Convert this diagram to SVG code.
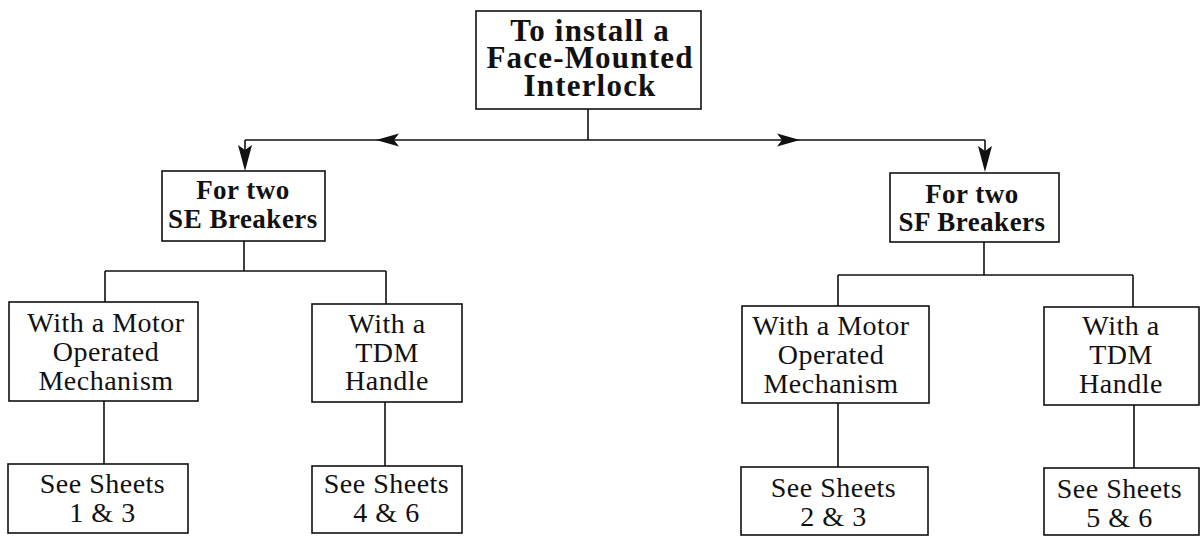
<svg xmlns="http://www.w3.org/2000/svg" width="1201" height="536" viewBox="0 0 1201 536">
<style>
.box{fill:#fff;stroke:#111;stroke-width:1.6}
.ln{fill:none;stroke:#111;stroke-width:1.6}
.ah{fill:#111}
.t{font-family:"Liberation Serif","Times New Roman",serif;fill:#111;text-anchor:middle}
.title{font-size:31px;font-weight:bold;letter-spacing:1.2px}
.sub{font-size:27px;font-weight:bold;letter-spacing:0.5px}
.reg{font-size:28px;letter-spacing:0.5px}
</style>
<rect width="1201" height="536" fill="#fff"/>
<g id="connectors">
<path class="ln" d="M588,109 V140"/>
<path class="ln" d="M245,140 H985"/>
<path class="ah" d="M376,140 L399,133.5 L394,140 L399,146.5 Z"/>
<path class="ah" d="M800,140 L777,133.5 L782,140 L777,146.5 Z"/>
<path class="ah" d="M238,145 L245,171 L252,145 L245,150 Z"/>
<path class="ah" d="M978,146 L985,172 L992,146 L985,151 Z"/>
<path class="ln" d="M245,140 V150 M985,140 V151"/>
<path class="ln" d="M244,241 V271 M105,271 H386 M105,271 V302 M386,271 V304"/>
<path class="ln" d="M984,242 V275 M838,275 H1133 M838,275 V306 M1133,275 V307"/>
<path class="ln" d="M104,401 V464 M385,402 V466"/>
<path class="ln" d="M838,403 V467 M1134,405 V468"/>
</g>
<g id="n-root">
<rect class="box" x="476" y="11" width="225" height="98"/>
<text class="t title" x="590" y="41">To install a</text>
<text class="t title" x="590" y="68">Face-Mounted</text>
<text class="t title" x="590" y="96">Interlock</text>
</g>
<g id="n-se">
<rect class="box" x="162" y="171" width="163" height="70"/>
<text class="t sub" x="243" y="199">For two</text>
<text class="t sub" x="243" y="228">SE Breakers</text>
</g>
<g id="n-sf">
<rect class="box" x="890" y="173" width="169" height="69"/>
<text class="t sub" x="972" y="203">For two</text>
<text class="t sub" x="972" y="231">SF Breakers</text>
</g>
<g id="n-se-motor">
<rect class="box" x="9" y="302" width="189" height="99"/>
<text class="t reg" x="106" y="332">With a Motor</text>
<text class="t reg" x="106" y="361">Operated</text>
<text class="t reg" x="106" y="390">Mechanism</text>
</g>
<g id="n-se-tdm">
<rect class="box" x="312" y="304" width="150" height="98"/>
<text class="t reg" x="387" y="333">With a</text>
<text class="t reg" x="387" y="362">TDM</text>
<text class="t reg" x="387" y="390">Handle</text>
</g>
<g id="n-sf-motor">
<rect class="box" x="742" y="306" width="187" height="97"/>
<text class="t reg" x="831" y="335">With a Motor</text>
<text class="t reg" x="831" y="364">Operated</text>
<text class="t reg" x="831" y="393">Mechanism</text>
</g>
<g id="n-sf-tdm">
<rect class="box" x="1044" y="307" width="155" height="98"/>
<text class="t reg" x="1121" y="335">With a</text>
<text class="t reg" x="1121" y="364">TDM</text>
<text class="t reg" x="1121" y="393">Handle</text>
</g>
<g id="n-sheets-13">
<rect class="box" x="8" y="464" width="180" height="69"/>
<text class="t reg" x="102.5" y="493">See Sheets</text>
<text class="t reg" x="102.5" y="522">1 &amp; 3</text>
</g>
<g id="n-sheets-46">
<rect class="box" x="312" y="466" width="150" height="67"/>
<text class="t reg" x="386.5" y="493">See Sheets</text>
<text class="t reg" x="386.5" y="522">4 &amp; 6</text>
</g>
<g id="n-sheets-23">
<rect class="box" x="741" y="467" width="187" height="68"/>
<text class="t reg" x="833.5" y="497">See Sheets</text>
<text class="t reg" x="833.5" y="526">2 &amp; 3</text>
</g>
<g id="n-sheets-56">
<rect class="box" x="1044" y="468" width="155" height="67"/>
<text class="t reg" x="1119.5" y="498">See Sheets</text>
<text class="t reg" x="1119.5" y="527">5 &amp; 6</text>
</g>
</svg>
